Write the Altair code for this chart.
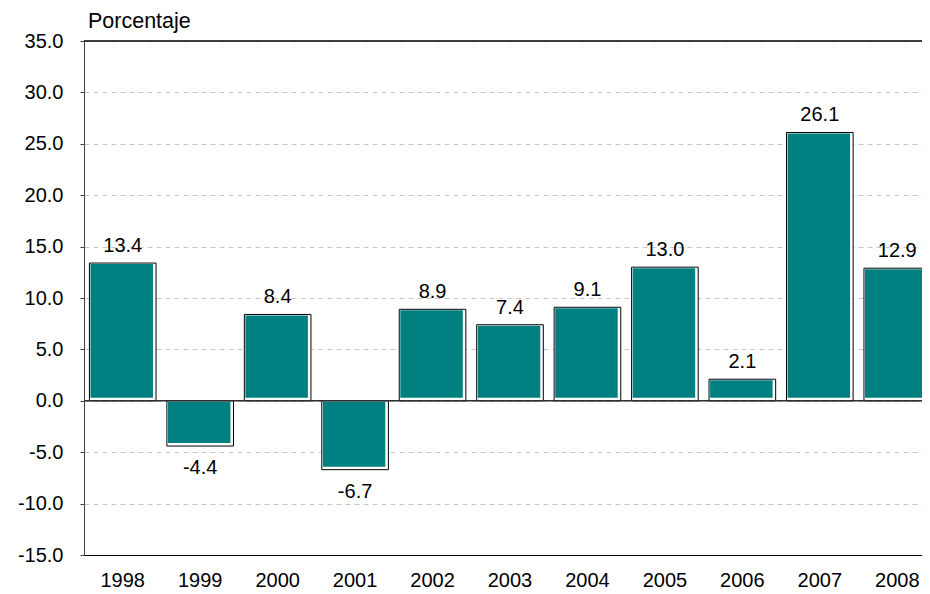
import altair as alt
import pandas as pd

years = ["1998", "1999", "2000", "2001", "2002", "2003", "2004", "2005", "2006", "2007", "2008"]
values = [13.4, -4.4, 8.4, -6.7, 8.9, 7.4, 9.1, 13.0, 2.1, 26.1, 12.9]
y_ticks = [-15, -10, -5, 0, 5, 10, 15, 20, 25, 30, 35]
y_title = "Porcentaje"

FONT = "Liberation Sans"
TEAL = "#008080"

df = pd.DataFrame({"year": years, "value": values})

xscale = alt.Scale(range=[0, 852], paddingInner=0.14, paddingOuter=0.07)
yscale = alt.Scale(domain=[-15, 35], nice=False, zero=False)

x_axis = alt.Axis(title=None, labelFontSize=20, labelColor="black", labelFont=FONT,
                  tickSize=0, labelPadding=15, domainColor="black", labelAngle=0,
                  grid=False)
y_axis = alt.Axis(values=y_ticks, format=".1f", title=None, grid=True, gridDash=[5, 4],
                  gridColor="#c8c8c8", domainColor="#404040", tickColor="#404040",
                  tickSize=4, labelFontSize=20, labelPadding=17, labelColor="black",
                  labelFont=FONT, labelExpr="replace(datum.label, '\u2212', '-')")

X = alt.X("year:N", sort=None, scale=xscale, axis=x_axis)

base = alt.Chart(df).transform_calculate(
    top="max(datum.value, 0)",
    bottom="min(datum.value, 0)",
    lab="replace(format(datum.value, '.1f'), '\u2212', '-')",
)

outer = base.mark_bar(fill="white", stroke="black", strokeWidth=1).encode(
    x=X,
    y=alt.Y("top:Q", scale=yscale, axis=y_axis),
    y2="bottom:Q",
)

inner = base.mark_bar(fill=TEAL, width=62.5, xOffset=-1, yOffset=1, y2Offset=-3).encode(
    x=X,
    y=alt.Y("top:Q", scale=yscale, axis=y_axis),
    y2="bottom:Q",
)

pos_labels = base.transform_filter("datum.value >= 0").mark_text(
    font=FONT, fontSize=20, color="black", baseline="alphabetic", dy=-11
).encode(
    x=X,
    y=alt.Y("value:Q", scale=yscale, axis=y_axis),
    text="lab:N",
)

neg_labels = base.transform_filter("datum.value < 0").mark_text(
    font=FONT, fontSize=20, color="black", baseline="alphabetic", dy=28
).encode(
    x=X,
    y=alt.Y("value:Q", scale=yscale, axis=y_axis),
    text="lab:N",
)

zero_rule = alt.Chart(pd.DataFrame({"v": [0]})).mark_rule(color="#303030", strokeWidth=1.5).encode(
    y=alt.Y("v:Q", scale=yscale, axis=y_axis)
)

top_rule = alt.Chart(pd.DataFrame({"v": [35]})).mark_rule(color="black", strokeWidth=1.5).encode(
    y=alt.Y("v:Q", scale=yscale, axis=y_axis)
)

title_text = alt.Chart(pd.DataFrame({"t": [y_title]})).mark_text(
    font=FONT, fontSize=21.5, color="black", align="left", baseline="alphabetic"
).encode(
    x=alt.value(4), y=alt.value(-13), text="t:N"
)

chart = alt.layer(
    outer, inner, zero_rule, top_rule, pos_labels, neg_labels, title_text
).properties(
    width=838, height=514,
    autosize=alt.AutoSizeParams(type="none"),
    padding={"left": 76, "top": 33, "right": 0, "bottom": 34},
).configure_view(stroke=None)

chart.save("out.html", embed_options={"renderer": "svg", "actions": False})
